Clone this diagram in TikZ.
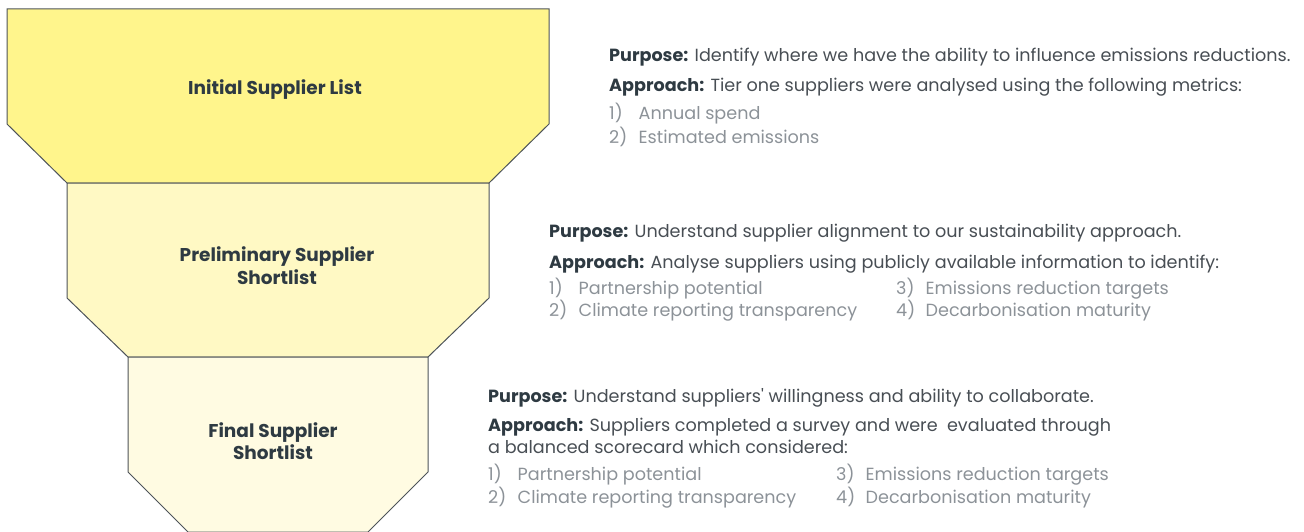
\documentclass[tikz,border=0pt]{standalone}
\usepackage{fontspec}
\setmainfont{Poppins}
\definecolor{stageA}{RGB}{255,245,140}
\definecolor{stageB}{RGB}{255,249,196}
\definecolor{stageC}{RGB}{255,251,226}
\definecolor{edgecol}{RGB}{77,83,89}
\definecolor{headcol}{RGB}{46,58,66}
\definecolor{bodycol}{RGB}{72,78,84}
\definecolor{itemcol}{RGB}{140,146,152}
\newcommand{\num}[1]{\makebox[29.5pt][l]{#1}}
\tikzset{
  stagebox/.style={draw=edgecol, line width=1pt, line join=miter},
  stagelabel/.style={anchor=base, inner sep=0pt, font=\bfseries\fontsize{18.5}{22}\selectfont, text=headcol},
  bodyline/.style={anchor=base west, inner sep=0pt, font=\fontsize{17.6}{20}\selectfont, text=bodycol},
  itemline/.style={bodyline, text=itemcol}
}
\newcommand{\tagtext}[1]{{\bfseries\color{headcol}#1}}
\begin{document}
\begin{tikzpicture}[x=1pt,y=-1pt]
\useasboundingbox (0,0) rectangle (1304,532);
% funnel stages
\draw[stagebox, fill=stageA] (7,9) -- (549,9) -- (549,124) -- (489,183) -- (67,183) -- (7,124) -- cycle;
\draw[stagebox, fill=stageB] (67,183) -- (489,183) -- (489,298) -- (428,357) -- (128,357) -- (67,298) -- cycle;
\draw[stagebox, fill=stageC] (128,357) -- (428,357) -- (428,472) -- (368,532) -- (188,532) -- (128,472) -- cycle;
% stage labels
\node[stagelabel] (s1) at (275,95) {Initial Supplier List};
\node[stagelabel] (s2a) at (277,261) {Preliminary Supplier};
\node[stagelabel] (s2b) at (277,284) {Shortlist};
\node[stagelabel] (s3a) at (273,437) {Final Supplier};
\node[stagelabel] (s3b) at (273,459) {Shortlist};
% block 1
\node[bodyline] (b1p) at (609,62) {\tagtext{Purpose:} Identify where we have the ability to influence emissions reductions.};
\node[bodyline] (b1a) at (609,92) {\tagtext{Approach:} Tier one suppliers were analysed using the following metrics:};
\node[itemline] (b1i1) at (609,120) {\num{1)}Annual spend};
\node[itemline] (b1i2) at (609,143) {\num{2)}Estimated emissions};
% block 2
\node[bodyline] (b2p) at (549,237) {\tagtext{Purpose:} Understand supplier alignment to our sustainability approach.};
\node[bodyline] (b2a) at (549,268) {\tagtext{Approach:} Analyse suppliers using publicly available information to identify:};
\node[itemline] (b2i1) at (549,294) {\num{1)}Partnership potential};
\node[itemline] (b2i2) at (549,316) {\num{2)}Climate reporting transparency};
\node[itemline] (b2i3) at (896,294) {\num{3)}Emissions reduction targets};
\node[itemline] (b2i4) at (896,316) {\num{4)}Decarbonisation maturity};
% block 3
\node[bodyline] (b3p) at (488,402) {\tagtext{Purpose:} Understand suppliers\textquotesingle{} willingness and ability to collaborate.};
\node[bodyline] (b3a) at (488,431) {\tagtext{Approach:} Suppliers completed a survey and were~ evaluated through};
\node[bodyline] (b3b) at (488,453) {a balanced scorecard which considered:};
\node[itemline] (b3i1) at (488,480) {\num{1)}Partnership potential};
\node[itemline] (b3i2) at (488,503) {\num{2)}Climate reporting transparency};
\node[itemline] (b3i3) at (836,480) {\num{3)}Emissions reduction targets};
\node[itemline] (b3i4) at (836,503) {\num{4)}Decarbonisation maturity};
\end{tikzpicture}
\end{document}
